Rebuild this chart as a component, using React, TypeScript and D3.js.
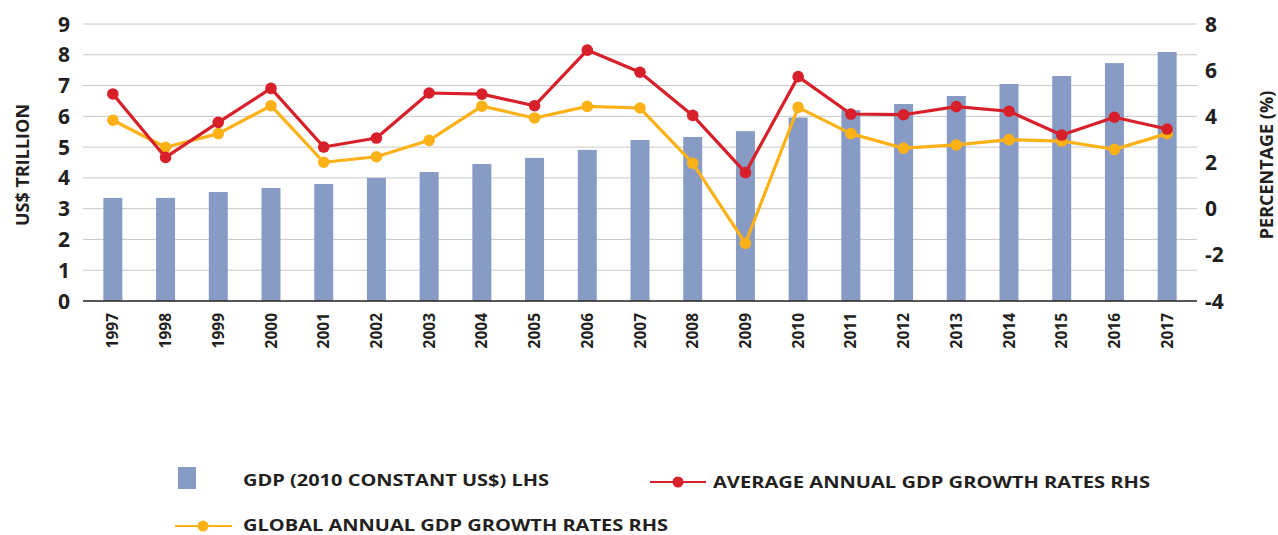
import React from "react";
import * as d3 from "d3";

const years = ["1997","1998","1999","2000","2001","2002","2003","2004","2005","2006","2007","2008","2009","2010","2011","2012","2013","2014","2015","2016","2017"];
const gdp = [3.35,3.35,3.54,3.67,3.80,4.00,4.19,4.45,4.65,4.91,5.23,5.33,5.52,5.96,6.2,6.40,6.66,7.05,7.31,7.73,8.09];
const avgGrowth = [4.97,2.22,3.74,5.21,2.67,3.06,5.01,4.96,4.46,6.87,5.91,4.04,1.56,5.72,4.10,4.07,4.42,4.22,3.19,3.96,3.45];
const globalGrowth = [3.83,2.66,3.25,4.46,2.01,2.25,2.96,4.44,3.93,4.43,4.36,1.97,-1.50,4.39,3.25,2.62,2.76,2.99,2.93,2.57,3.25];
const leftTicks = [0,1,2,3,4,5,6,7,8,9];
const rightTicks = [-4,-2,0,2,4,6,8];

const W = 1278, H = 535;
const plotL = 83, plotR = 1197, plotT = 24, plotB = 301;
const font = "'Open Sans', 'DejaVu Sans', sans-serif";
const BAR = "#879BC5", RED = "#D7202A", YEL = "#FCB117";

export default function App() {
  const x = d3.scaleBand<string>().domain(years).range([86.5, 1193.5]).paddingInner(0.64).paddingOuter(0.32);
  const yL = d3.scaleLinear().domain([0, 9]).range([plotB, plotT]);
  const yR = d3.scaleLinear().domain([-4, 8]).range([plotB, plotT]);
  const cx = (y: string) => (x(y) as number) + x.bandwidth() / 2;
  const lineR = d3.line<number>().x((_, i) => cx(years[i])).y(d => yR(d));

  return (
    <svg width={W} height={H} style={{ position: "absolute", left: 0, top: 0, background: "#fff" }} fontFamily={font}>
      {leftTicks.map(t => (
        <g key={"g" + t}>
          {t > 0 && <line x1={plotL} x2={plotR} y1={yL(t)} y2={yL(t)} stroke="#c8c8c8" strokeWidth={1} />}
          <text x={70} y={yL(t)} dy="0.36em" textAnchor="end" fontSize={21} fontWeight={700} fill="#231f20">{t}</text>
        </g>
      ))}
      {rightTicks.map(t => (
        <text key={"r" + t} x={1205} y={yR(t)} dy="0.36em" textAnchor="start" fontSize={21} fontWeight={700} fill="#231f20">{t}</text>
      ))}
      {years.map((yr, i) => (
        <rect key={"b" + yr} x={x(yr)} y={yL(gdp[i])} width={x.bandwidth()} height={plotB - yL(gdp[i])} fill={BAR} />
      ))}
      <line x1={plotL} x2={plotR} y1={plotB} y2={plotB} stroke="#231f20" strokeWidth={1.5} />
      <path d={lineR(globalGrowth) || ""} fill="none" stroke={YEL} strokeWidth={3.2} strokeLinejoin="round" />
      {globalGrowth.map((v, i) => (
        <circle key={"y" + i} cx={cx(years[i])} cy={yR(v)} r={5.8} fill={YEL} />
      ))}
      <path d={lineR(avgGrowth) || ""} fill="none" stroke={RED} strokeWidth={3.2} strokeLinejoin="round" />
      {avgGrowth.map((v, i) => (
        <circle key={"rd" + i} cx={cx(years[i])} cy={yR(v)} r={5.8} fill={RED} />
      ))}
      {years.map(yr => (
        <text key={"x" + yr} transform={`translate(${cx(yr) + 5.5},${313}) rotate(-90)`} textAnchor="end" fontSize={15.5} fontWeight={700} fill="#231f20">{yr}</text>
      ))}
      <text transform={`translate(29,${165}) rotate(-90)`} textAnchor="middle" fontSize={18} fontWeight={700} fill="#231f20">US$ TRILLION</text>
      <text transform={`translate(1273,${165}) rotate(-90)`} textAnchor="middle" fontSize={18} fontWeight={700} fill="#231f20">PERCENTAGE (%)</text>

      <rect x={178} y={467} width={18} height={22} fill={BAR} />
      <text x={243} y={486} fontSize={16} fontWeight={700} fill="#231f20" textLength={306} lengthAdjust="spacingAndGlyphs">GDP (2010 CONSTANT US$) LHS</text>
      <line x1={650} x2={706} y1={482} y2={482} stroke={RED} strokeWidth={2} />
      <circle cx={678} cy={482} r={5.5} fill={RED} />
      <text x={713} y={488} fontSize={16} fontWeight={700} fill="#231f20" textLength={437} lengthAdjust="spacingAndGlyphs">AVERAGE ANNUAL GDP GROWTH RATES RHS</text>
      <line x1={175} x2={232} y1={526} y2={526} stroke={YEL} strokeWidth={2} />
      <circle cx={203} cy={526} r={5.5} fill={YEL} />
      <text x={243} y={531} fontSize={16} fontWeight={700} fill="#231f20" textLength={425} lengthAdjust="spacingAndGlyphs">GLOBAL ANNUAL GDP GROWTH RATES RHS</text>
    </svg>
  );
}
